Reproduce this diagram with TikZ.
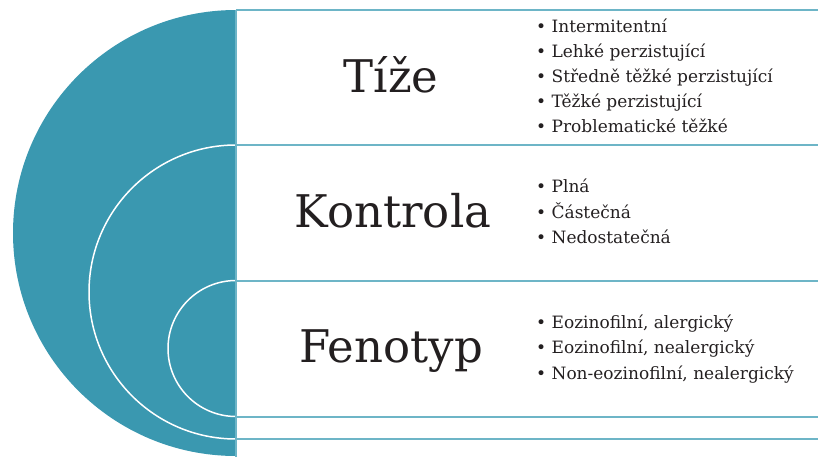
\documentclass[tikz,border=0pt]{standalone}
\usepackage{fontspec}
\setmainfont{DejaVu Serif}
\usetikzlibrary{positioning}
\definecolor{ringteal}{HTML}{3A98B0}
\definecolor{ruleteal}{HTML}{6DB5C7}
\definecolor{inkgray}{HTML}{231F20}

\begin{document}
\begin{tikzpicture}[
    x=1pt, y=-1pt,
    title/.style={
        anchor=base, inner sep=0pt, text=inkgray, font=\fontsize{45}{50}\selectfont
    },
    item/.style={
        anchor=base west, inner sep=0pt, text=inkgray, font=\fontsize{17}{25}\selectfont
    },
    rule/.style={
        draw=ruleteal, line width=2pt
    },
    ring/.style={
        draw=white, line width=1.5pt
    }
]
    \useasboundingbox (0,0) rectangle (818,457);

    % --- half disk with rings ---
    \begin{scope}
        \clip (0,0) rectangle (236,457);
        \fill [ringteal] (236,233) circle [radius=223pt];
        \draw [ring] (236,292) circle [radius=147pt];
        \draw [ring] (236,348.5) circle [radius=68pt];
    \end{scope}

    % --- rules ---
    \coordinate (top) at (236,10);
    \coordinate (foot) at (236,457);
    \foreach \y [count=\k] in {10,145,281,416.5,439} {
        \coordinate (rl-\k) at (236,\y);
        \coordinate (rr-\k) at (818,\y);
        \draw [rule] (rl-\k) -- (rr-\k);
    }
    \draw [rule, line width=1.5pt] (top) -- (foot);

    % --- titles ---
    \node [title] (tize) at (391,93) {Tíže};
    \node [title] (kontrola) at (393,227) {Kontrola};
    \node [title] (fenotyp) at (391,362) {Fenotyp};

    % --- lists ---
    \foreach \t [count=\i] in {Intermitentní, Lehké perzistující, Středně těžké perzistující, Těžké perzistující, Problematické těžké}
        \node [item] (tize-\i) at (536,{33+25*(\i-1)}) {\textbullet\ \t};
    \foreach \t [count=\i] in {Plná, Částečná, Nedostatečná}
        \node [item] (kontrola-\i) at (536,{193+25*(\i-1)}) {\textbullet\ \t};
    \foreach \t [count=\i] in {{Eozinofilní, alergický}, {Eozinofilní, nealergický}, {Non-eozinofilní, nealergický}}
        \node [item] (fenotyp-\i) at (536,{328+25.5*(\i-1)}) {\textbullet\ \t};

\end{tikzpicture}
\end{document}
